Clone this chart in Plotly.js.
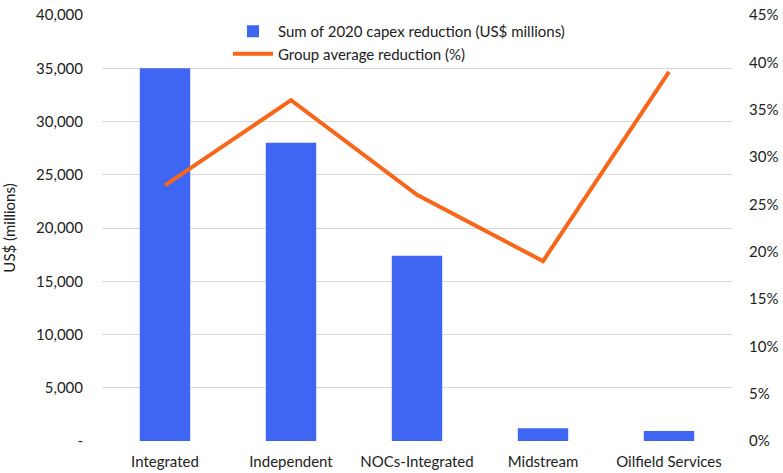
<!DOCTYPE html>
<html>
<head>
<meta charset="utf-8">
<script src="https://cdn.plot.ly/plotly-3.0.1.min.js"></script>
<style>html,body{margin:0;padding:0;background:#fff;}#chart{width:783px;height:473px;}</style>
</head>
<body>
<div id="chart"></div>
<script>
const categories = ["Integrated", "Independent", "NOCs-Integrated", "Midstream", "Oilfield Services"];
const capexReduction = [35000, 28000, 17400, 1200, 950];
const avgReduction = [0.27, 0.36, 0.26, 0.19, 0.39];
const leftTickVals = [0, 5000, 10000, 15000, 20000, 25000, 30000, 35000, 40000];
const leftTickText = ["-", "5,000", "10,000", "15,000", "20,000", "25,000", "30,000", "35,000", "40,000"];

const font = "Lato, 'Open Sans', sans-serif";
const traces = [
  {
    type: "bar", x: categories, y: capexReduction,
    name: "Sum of 2020 capex reduction (US$ millions)",
    marker: {color: "#3f66f3"}, yaxis: "y"
  },
  {
    type: "scatter", mode: "lines", x: categories, y: avgReduction,
    name: "Group average reduction (%)",
    line: {color: "#f8661a", width: 4}, yaxis: "y2"
  }
];
const layout = {
  width: 783, height: 473,
  margin: {l: 102, r: 51, t: 15, b: 32},
  paper_bgcolor: "#fff", plot_bgcolor: "#fff",
  font: {family: font, size: 15, color: "#222"},
  bargap: 0.6,
  showlegend: true,
  legend: {x: 0.2, y: 1.0, xanchor: "left", yanchor: "top", bgcolor: "rgba(0,0,0,0)",
           font: {family: font, size: 15, color: "#222"}, tracegroupgap: 0, itemwidth: 40},
  xaxis: {showgrid: false, showline: false, zeroline: false, ticks: "", ticklabelstandoff: 10,
          tickfont: {family: font, size: 15, color: "#222"}},
  yaxis: {range: [0, 40000], tickvals: leftTickVals, ticktext: leftTickText,
          showgrid: true, gridcolor: "#d9d9d9", gridwidth: 1, zeroline: false, showline: false,
          ticks: "", automargin: false, ticklabelstandoff: 18,
          title: {text: "US$ (millions)", font: {family: font, size: 15, color: "#222"}, standoff: 18},
          tickfont: {family: font, size: 15, color: "#222"}},
  yaxis2: {range: [0, 0.45], dtick: 0.05, tick0: 0, tickformat: ".0%", overlaying: "y", side: "right",
           showgrid: false, zeroline: false, showline: false, ticks: "", automargin: false,
           ticklabelstandoff: 16,
           tickfont: {family: font, size: 15, color: "#222"}}
};
Plotly.newPlot("chart", traces, layout, {displayModeBar: false, staticPlot: true});
</script>
</body>
</html>
